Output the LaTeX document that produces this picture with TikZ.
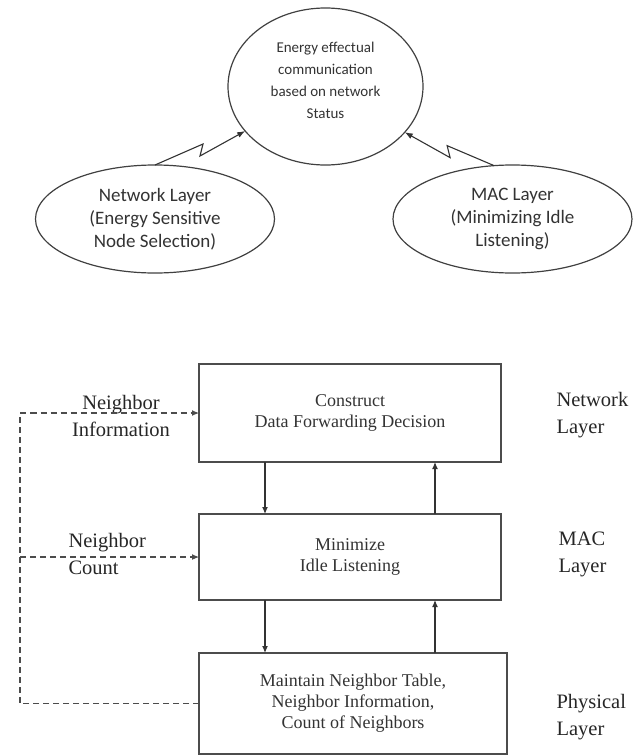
\documentclass[tikz,border=0pt]{standalone}
\usepackage{fontspec}
\setmainfont{Liberation Serif}
\newfontfamily\calibri{Carlito}
\usepackage{tikz}
\usetikzlibrary{arrows.meta,shapes.geometric,calc}
\tikzset{
	topic/.style={
			ellipse, draw=black!75, line width=1.2pt, inner sep=0pt, outer sep=0pt,
			align=center, text=black!80, font=\calibri\fontsize{19}{23}\selectfont
		},
	topictext/.style={align=center, text=black!80, font=\calibri\fontsize{15}{22}\selectfont},
	layerbox/.style={
			rectangle, draw=black!70, line width=1.3pt, inner sep=0pt, outer sep=0pt,
			align=center, text=black!80, font=\fontsize{18}{21}\selectfont
		},
	sidetext/.style={align=left, text=black!85, font=\fontsize{20.5}{27}\selectfont},
	bolt/.style={draw=black!80, line width=1.1pt, -{Latex[length=8pt,width=6pt]}},
	flow/.style={draw=black!80, line width=1.1pt, -{Latex[length=7pt,width=6pt]}},
	feed/.style={draw=black!70, line width=1.1pt, dash pattern=on 6pt off 4pt, -{Latex[length=7pt,width=6pt]}}
}

\begin{document}
\begin{tikzpicture}[x=1pt, y=-1pt]
		\useasboundingbox (0,0) rectangle (641,755);

		\node [topic, minimum width=195pt, minimum height=157pt]	(goal) at (325.5,86.5) {};
		\node [topictext]	(goaltext) at (325.5,80) {Energy effectual\\communication\\based on network\\Status};
		\node [topic, minimum width=239pt, minimum height=108pt]	(net) at (155,219) {Network Layer\\(Energy Sensitive\\Node Selection)};
		\node [topic, minimum width=239pt, minimum height=108pt]	(mac) at (512.5,219) {MAC Layer\\(Minimizing Idle\\Listening)};

		\draw [bolt]	(net.north) -- ++(48,-21) -- ++(-3,12) -- (goal.209);
		\draw [bolt]	(mac.109) -- ++(-47,-20) -- ++(3,12) -- (goal.330);

		\node [layerbox, minimum width=302pt, minimum height=98pt]	(construct) at (350,413) {Construct\\Data Forwarding Decision};
		\node [layerbox, minimum width=302pt, minimum height=86pt]	(minimize) at (350,557) {Minimize\\Idle Listening};
		\node [layerbox, minimum width=308pt, minimum height=101pt]	(table) at (353,703.5) {Maintain Neighbor Table,\\Neighbor Information,\\Count of Neighbors};

		\node [sidetext, anchor=west]	(netlayer) at (553,415) {Network\\Layer};
		\node [sidetext, anchor=west]	(maclayer) at (555,554) {MAC\\Layer};
		\node [sidetext, anchor=west]	(phylayer) at (553,717.5) {Physical\\Layer};
		\node [sidetext, align=center]	(neighinfo) at (121,415.5) {Neighbor\\Information};
		\node [sidetext, anchor=west]	(neighcount) at (65,554) {Neighbor\\Count};

		\coordinate (dn) at (265,0);
		\coordinate (up) at (435,0);
		\coordinate (rail) at (20,0);

		\draw [flow]	(construct.south -| dn) -- (minimize.north -| dn);
		\draw [flow]	(minimize.north -| up) -- (construct.south -| up);
		\draw [flow]	(minimize.south -| dn) -- (table.north -| dn);
		\draw [flow]	(table.north -| up) -- (minimize.south -| up);

		\draw [feed]	(table.west) -- (table.west -| rail) |- (construct.west);
		\draw [feed]	(minimize.west -| rail) -- (minimize.west);
	\end{tikzpicture}
\end{document}
